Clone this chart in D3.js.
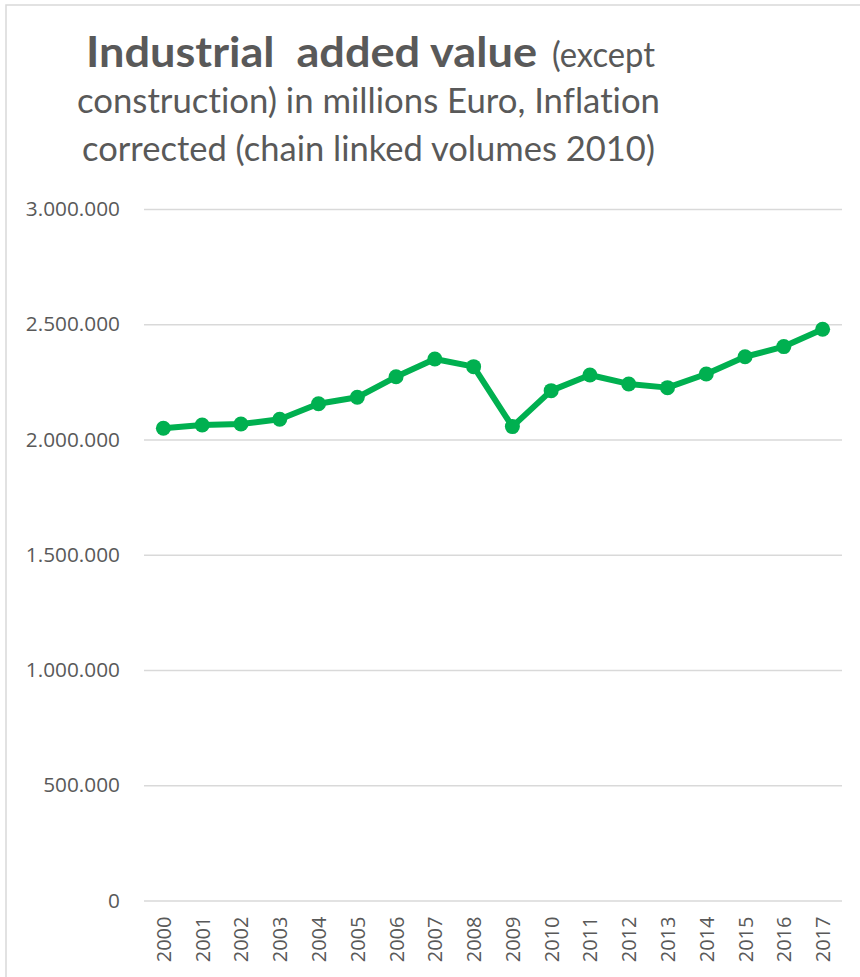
<!DOCTYPE html>
<html>
<head>
<meta charset="utf-8">
<script src="https://cdn.jsdelivr.net/npm/d3@7"></script>
<style>
  html, body { margin: 0; padding: 0; background: #ffffff; }
  svg { display: block; }
  text { fill: #595959; font-variant-ligatures: none; font-feature-settings: "liga" 0, "dlig" 0; }
</style>
</head>
<body>
<svg id="chart" width="860" height="977"></svg>
<script>
// Industrial added value (except construction), millions of euro, chain linked volumes 2010
const years = ["2000","2001","2002","2003","2004","2005","2006","2007","2008",
               "2009","2010","2011","2012","2013","2014","2015","2016","2017"];
const addedValue = [2049000, 2063000, 2067000, 2088000, 2155000, 2183000, 2272000, 2349000, 2316000,
                    2056000, 2212000, 2280000, 2241000, 2225000, 2284000, 2359000, 2403000, 2478000];
const yTicks = [0, 500000, 1000000, 1500000, 2000000, 2500000, 3000000];

const titleBold = "Industrial  added value";
const titleRest = ["(except", "construction) in millions Euro, Inflation", "corrected (chain linked volumes 2010)"];

const svg = d3.select("#chart");
const W = 860, H = 977;

// chart frame
svg.append("path")
  .attr("d", `M6,${H + 5} L6,5 L${W + 5},5`)
  .attr("fill", "none")
  .attr("stroke", "#d9d9d9")
  .attr("stroke-width", 1.5);

// title
const fontTitle = "Lato, 'Open Sans', sans-serif";
svg.append("text")
  .attr("x", 86).attr("y", 66.7)
  .attr("font-family", fontTitle).attr("font-weight", 700).attr("font-size", 42)
  .attr("textLength", 451).attr("lengthAdjust", "spacingAndGlyphs")
  .style("white-space", "pre")
  .text(titleBold);
svg.append("text")
  .attr("x", 552).attr("y", 66.7)
  .attr("font-family", fontTitle).attr("font-size", 35)
  .attr("textLength", 103).attr("lengthAdjust", "spacingAndGlyphs")
  .text(titleRest[0]);
svg.append("text")
  .attr("x", 77).attr("y", 113)
  .attr("font-family", fontTitle).attr("font-size", 35)
  .attr("textLength", 583).attr("lengthAdjust", "spacingAndGlyphs")
  .text(titleRest[1]);
svg.append("text")
  .attr("x", 82).attr("y", 161)
  .attr("font-family", fontTitle).attr("font-size", 35)
  .attr("textLength", 573).attr("lengthAdjust", "spacingAndGlyphs")
  .text(titleRest[2]);

// scales
const x = d3.scaleBand().domain(years).range([144, 842]);
const y = d3.scaleLinear().domain([0, 3000000]).range([900.5, 209]);

const locale = d3.formatLocale({ decimal: ",", thousands: ".", grouping: [3], currency: ["", "€"] });
const fmt = locale.format(",d");
const axisFont = "'Open Sans', 'Noto Sans', sans-serif";

// gridlines + y labels
const yAxis = d3.axisLeft(y).tickValues(yTicks).tickFormat(fmt)
  .tickSize(-(842 - 144)).tickPadding(24);
const gy = svg.append("g").attr("transform", "translate(144,0)").call(yAxis);
gy.select(".domain").remove();
gy.selectAll(".tick line").attr("stroke", "#d9d9d9").attr("stroke-width", 1.5);
gy.selectAll(".tick text")
  .attr("fill", "#595959")
  .attr("font-family", axisFont)
  .attr("font-size", 20.8);

// x labels (rotated)
const xAxis = d3.axisBottom(x).tickSize(0).tickPadding(0);
const gx = svg.append("g").attr("transform", "translate(0,900.5)").call(xAxis);
gx.select(".domain").remove();
gx.selectAll(".tick text")
  .attr("fill", "#595959")
  .attr("font-family", axisFont)
  .attr("font-size", 20)
  .attr("text-anchor", "end")
  .attr("dy", null)
  .attr("y", 0)
  .attr("transform", "translate(7.5,16) rotate(-90)");

// series line
const cx = d => x(d) + x.bandwidth() / 2;
const line = d3.line()
  .x((d, i) => cx(years[i]))
  .y(d => y(d));

svg.append("path")
  .datum(addedValue)
  .attr("d", line)
  .attr("fill", "none")
  .attr("stroke", "#00b050")
  .attr("stroke-width", 6)
  .attr("stroke-linejoin", "round");

svg.append("g").selectAll("circle")
  .data(addedValue)
  .join("circle")
  .attr("cx", (d, i) => cx(years[i]))
  .attr("cy", d => y(d))
  .attr("r", 7.5)
  .attr("fill", "#00b050");
</script>
</body>
</html>
